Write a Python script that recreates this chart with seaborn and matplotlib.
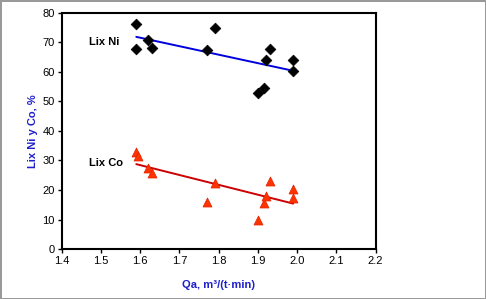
import matplotlib
matplotlib.use("Agg")
import matplotlib.pyplot as plt
import seaborn as sns
import pandas as pd

# flow rate Qa and extraction values
qa_ni = [1.59, 1.59, 1.62, 1.63, 1.77, 1.79, 1.90, 1.915, 1.92, 1.93, 1.99, 1.99]
lix_ni = [76.2, 67.7, 70.8, 68.0, 67.4, 74.7, 52.7, 54.6, 64.0, 67.6, 63.9, 60.4]
qa_co = [1.59, 1.595, 1.62, 1.63, 1.77, 1.79, 1.90, 1.915, 1.92, 1.93, 1.99, 1.99]
lix_co = [32.8, 31.5, 27.3, 25.6, 16.0, 22.5, 9.8, 15.5, 17.9, 23.0, 20.2, 17.2]

x_ticks = [1.4, 1.5, 1.6, 1.7, 1.8, 1.9, 2.0, 2.1, 2.2]
y_ticks = [0, 10, 20, 30, 40, 50, 60, 70, 80]

sns.set_style("white")
plt.rcParams['font.family'] = ['Liberation Sans', 'DejaVu Sans']
plt.rcParams['text.color'] = 'black'

ni = pd.DataFrame({'Qa': qa_ni, 'Lix': lix_ni})
co = pd.DataFrame({'Qa': qa_co, 'Lix': lix_co})

fig = plt.figure(figsize=(4.86, 2.99), dpi=100)
ax = fig.add_axes([0.127, 0.167, 0.646, 0.791])

sns.regplot(data=ni, x='Qa', y='Lix', ax=ax, ci=None, truncate=True, marker='D',
            scatter_kws={'s': 30, 'color': 'black', 'edgecolor': 'black', 'linewidths': 0.5,
                         'alpha': 1, 'zorder': 3},
            line_kws={'color': '#0000DD', 'lw': 1.4, 'zorder': 2})
sns.regplot(data=co, x='Qa', y='Lix', ax=ax, ci=None, truncate=True, marker='^',
            scatter_kws={'s': 42, 'color': '#FF3300', 'edgecolor': '#DD2200', 'linewidths': 0.5,
                         'alpha': 1, 'zorder': 3},
            line_kws={'color': '#CC0000', 'lw': 1.4, 'zorder': 2})

ax.text(1.47, 70.2, 'Lix Ni', fontsize=8, fontweight='bold', color='black', va='center', ha='left')
ax.text(1.47, 29.0, 'Lix Co', fontsize=8, fontweight='bold', color='black', va='center', ha='left')

ax.set_xlim(1.4, 2.2)
ax.set_ylim(0, 80)
ax.set_xticks(x_ticks)
ax.set_xticklabels([f"{t:.1f}" for t in x_ticks])
ax.set_yticks(y_ticks)
ax.tick_params(axis='both', which='major', labelsize=8, direction='out', length=3,
               width=1, colors='black', pad=2, left=True, bottom=True)

for sp in ax.spines.values():
    sp.set_visible(True)
    sp.set_color('black')
    sp.set_linewidth(1.5)

ax.set_xlabel("Qa, m³/(t·min)", fontsize=8, fontweight='bold', color='#1F1FCC', labelpad=10)
ax.set_ylabel("Lix Ni y Co, %", fontsize=8, fontweight='bold', color='#1F1FCC', labelpad=3)

fig.patch.set_edgecolor('#999999')
fig.patch.set_linewidth(2)
fig.savefig('out.png', dpi=100, facecolor='white', edgecolor='#999999')
